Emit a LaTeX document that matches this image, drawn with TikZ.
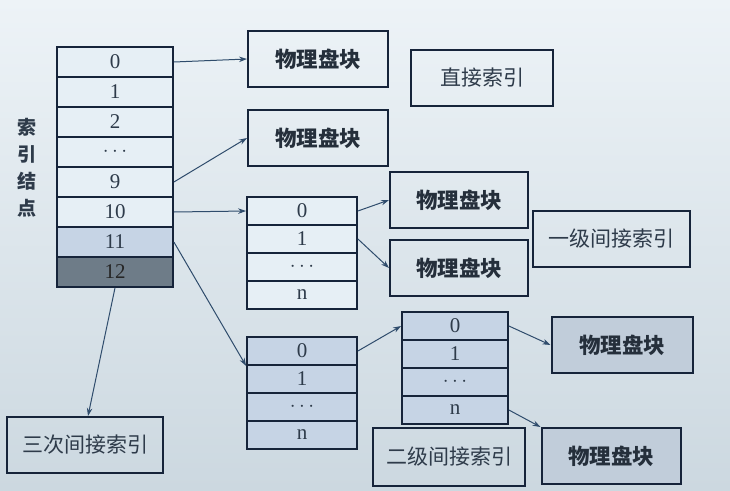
\documentclass[tikz,border=0pt]{standalone}
\usepackage{fontspec}
\setmainfont{Liberation Serif}
\newfontfamily\cjk{Noto Sans CJK SC}
\usetikzlibrary{arrows.meta}
\definecolor{bgtop}{HTML}{EDF3F7}
\definecolor{bgbot}{HTML}{CCD8E0}
\definecolor{edge}{HTML}{16243A}
\definecolor{wire}{HTML}{2F4C6C}
\definecolor{cellpale}{HTML}{E6EFF5}
\definecolor{cellblue}{HTML}{C6D4E5}
\definecolor{celldark}{HTML}{6E7C88}
\definecolor{blkfill}{HTML}{C1CDDA}
\definecolor{ink}{HTML}{2E3B4A}

\begin{document}
\begin{tikzpicture}[x=1pt, y=-1pt,
    cell/.style={draw=edge, line width=1.8pt, fill=cellpale, inner sep=0pt,
                 text=ink, font=\fontsize{21}{21}\selectfont},
    row/.style={cell, minimum width=116pt, minimum height=30pt},
    sub/.style={cell, minimum width=110pt, minimum height=28pt},
    blk/.style={draw=edge, line width=2pt, minimum width=140pt, minimum height=56pt,
                inner sep=0pt, text=ink!80!black, font=\cjk\bfseries\fontsize{21.5}{21.5}\selectfont},
    tag/.style={blk, text=ink, font=\cjk\fontsize{21}{21}\selectfont},
    wire/.style={draw=wire, line width=1pt, -{Stealth[length=8pt,width=5.5pt]}}]
      % background
      \shade[top color=bgtop, bottom color=bgbot] (0,0) rectangle (730,490);

      % inode table
      \node[row] (m0) at (115,62) {0};
      \node[row] (m1) at (115,92) {1};
      \node[row] (m2) at (115,122) {2};
      \node[row] (md) at (115,152) {$\cdots$};
      \node[row] (m9) at (115,182) {9};
      \node[row] (m10) at (115,212) {10};
      \node[row, fill=cellblue] (m11) at (115,242) {11};
      \node[row, fill=celldark, text=black!85] (m12) at (115,272) {12};
      \node[text=ink, align=center, font=\cjk\bfseries\fontsize{19}{27}\selectfont]
            (inode) at (27,168) {索\\引\\结\\点};

      % direct blocks
      \node[blk] (b1) at (318,59) {物理盘块};
      \node[blk] (b2) at (318,138) {物理盘块};
      \node[tag, minimum width=142pt] (direct) at (482,78) {直接索引};

      % single indirect
      \node[sub] (a0) at (302,211) {0};
      \node[sub] (a1) at (302,239) {1};
      \node[sub] (ad) at (302,267) {$\cdots$};
      \node[sub] (an) at (302,295) {n};
      \node[blk, minimum width=138pt] (b3) at (459,200) {物理盘块};
      \node[blk, minimum width=138pt] (b4) at (459,268) {物理盘块};
      \node[tag, minimum width=157pt] (single) at (611,239) {一级间接索引};

      % double indirect
      \node[sub, fill=cellblue] (p0) at (302,351) {0};
      \node[sub, fill=cellblue] (p1) at (302,379) {1};
      \node[sub, fill=cellblue] (pd) at (302,407) {$\cdots$};
      \node[sub, fill=cellblue] (pn) at (302,435) {n};
      \node[sub, fill=cellblue, minimum width=106pt] (q0) at (455,326) {0};
      \node[sub, fill=cellblue, minimum width=106pt] (q1) at (455,354) {1};
      \node[sub, fill=cellblue, minimum width=106pt] (qd) at (455,382) {$\cdots$};
      \node[sub, fill=cellblue, minimum width=106pt] (qn) at (455,410) {n};
      \node[blk, fill=blkfill, minimum width=141pt] (b5) at (622,345) {物理盘块};
      \node[blk, fill=blkfill, minimum width=139pt] (b6) at (611,456) {物理盘块};
      \node[tag, minimum width=152pt, minimum height=58pt] (double) at (449,457) {二级间接索引};

      % triple indirect
      \node[tag, minimum width=156pt] (triple) at (85,445) {三次间接索引};

      % pointers
      \draw[wire] (m0.east) -- (b1.west);
      \draw[wire] (m9.east) -- (b2.west);
      \draw[wire] (m10.east) -- (a0.west);
      \draw[wire] (m11.east) -- (p0.south west);
      \draw[wire] (m12.south) -- ([xshift=3pt]triple.north);
      \draw[wire] (a0.east) -- (b3.west);
      \draw[wire] (a1.east) -- (b4.west);
      \draw[wire] (p0.east) -- (q0.west);
      \draw[wire] (q0.east) -- (b5.west);
      \draw[wire] (qn.east) -- (b6.north west);
\end{tikzpicture}
\end{document}
